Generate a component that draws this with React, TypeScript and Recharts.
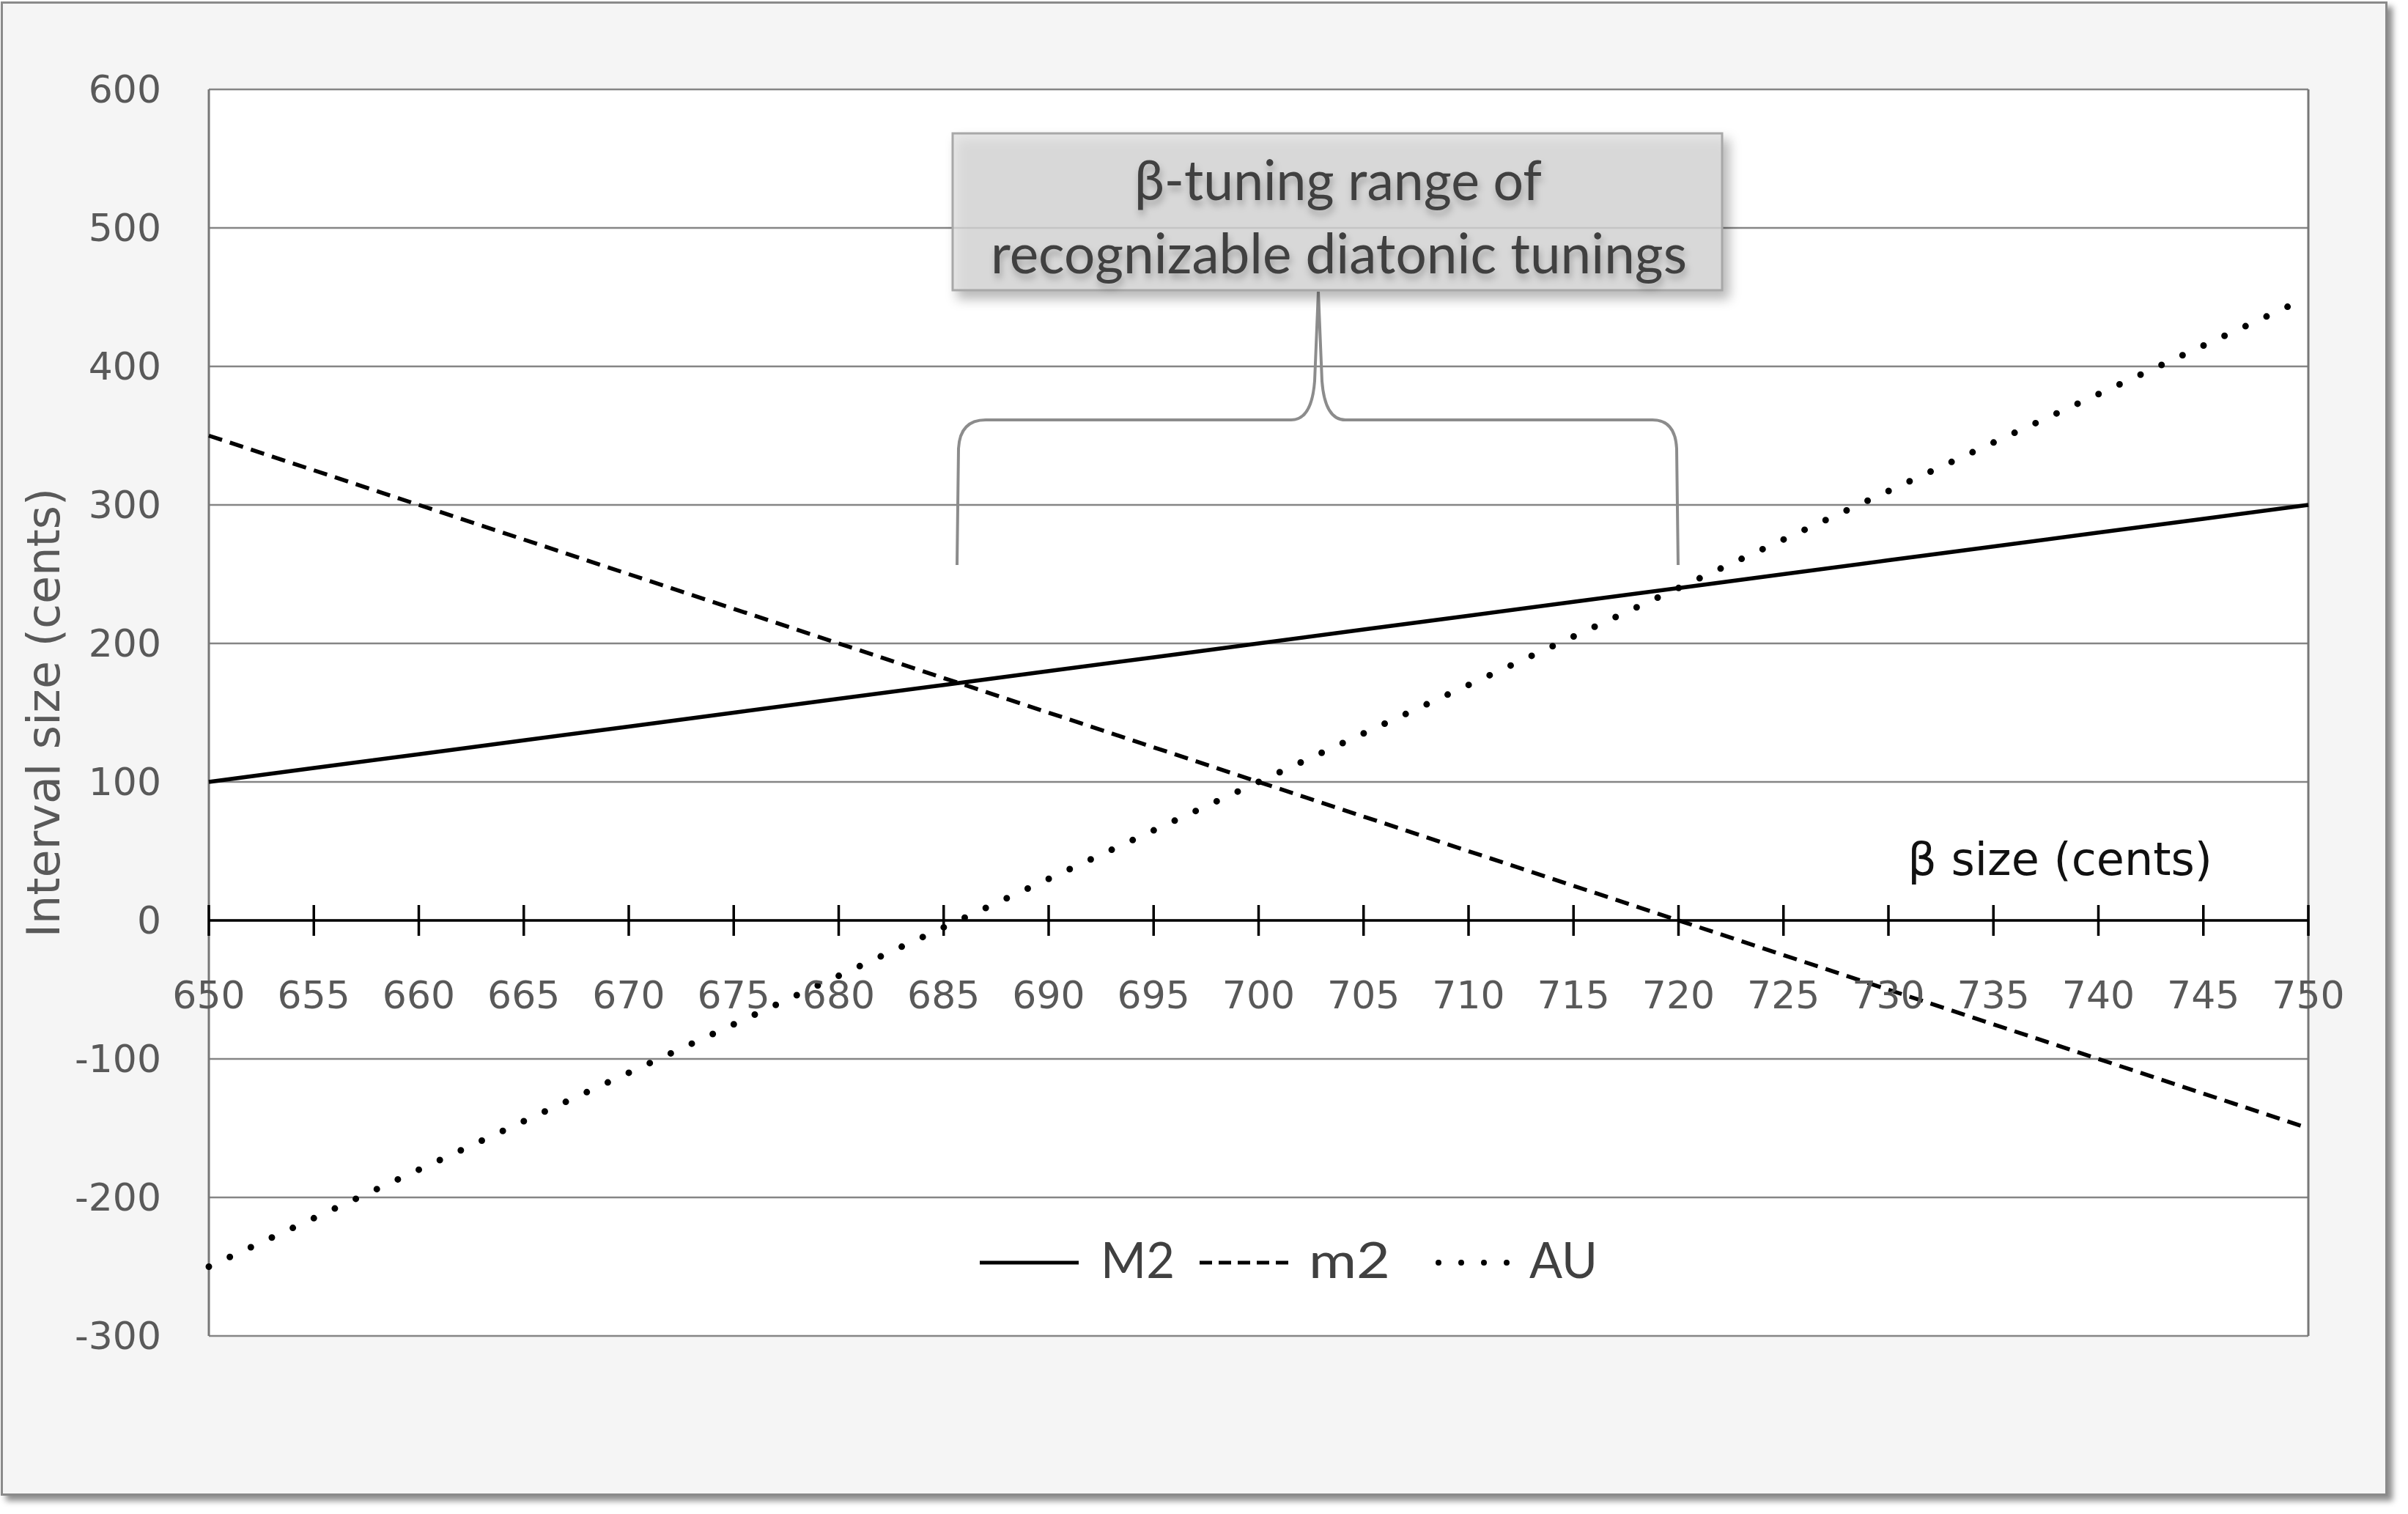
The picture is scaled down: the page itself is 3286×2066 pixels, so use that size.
import React from "react";
import {
  CartesianGrid,
  ComposedChart,
  Legend,
  Line,
  ReferenceLine,
  Scatter,
  YAxis,
  XAxis,
} from "recharts";

// beta size in cents, one row per x tick
const BETA = [650, 655, 660, 665, 670, 675, 680, 685, 690, 695, 700, 705, 710, 715, 720, 725, 730, 735, 740, 745, 750];
const M2 = [100, 110, 120, 130, 140, 150, 160, 170, 180, 190, 200, 210, 220, 230, 240, 250, 260, 270, 280, 290, 300];
const MINOR2 = [350, 325, 300, 275, 250, 225, 200, 175, 150, 125, 100, 75, 50, 25, 0, -25, -50, -75, -100, -125, -150];
const AU = [-250, -215, -180, -145, -110, -75, -40, -5, 30, 65, 100, 135, 170, 205, 240, 275, 310, 345, 380, 415, 450];

const Y_TICKS = [-300, -200, -100, 0, 100, 200, 300, 400, 500, 600];
const X_TICKS = BETA;

const chartData = BETA.map((b, i) => ({ beta: b, M2: M2[i], m2: MINOR2[i], AU: AU[i] }));
const axisTicks = X_TICKS.map((b) => ({ beta: b, zero: 0 }));

const W = 3286;
const H = 2066;
const TICK_FONT = "'DejaVu Sans', Verdana, sans-serif";
const NOTE_FONT = "Lato, 'Open Sans', sans-serif";
const LABEL_GREY = "#595959";

function YTitle(props: any) {
  const vb = props.viewBox || { x: 0, y: 122, width: 285, height: 1701 };
  const x = vb.x + 59;
  const y = vb.y + vb.height / 2;
  return (
    <text
      x={x}
      y={y}
      transform={`rotate(-90 ${x} ${y})`}
      textAnchor="middle"
      dominantBaseline="central"
      fill={LABEL_GREY}
      fontSize={62}
      fontFamily={TICK_FONT}
    >
      Interval size (cents)
    </text>
  );
}

function XTitle(props: any) {
  const vb = props.viewBox || { x: 285, y: 1257, width: 2865, height: 0 };
  return (
    <text
      x={vb.x + vb.width - 131}
      y={vb.y - 62}
      textAnchor="end"
      fill="#111"
      fontSize={62}
      fontFamily={TICK_FONT}
    >
      β size (cents)
    </text>
  );
}

// tick marks crossing the zero line, with the label below
function TickMark(props: any) {
  const { cx, cy, payload } = props;
  return (
    <g>
      <line x1={cx} x2={cx} y1={cy - 21} y2={cy + 21} stroke="#000" strokeWidth={3.5} />
      <text
        x={cx}
        y={cy + 102}
        textAnchor="middle"
        dominantBaseline="central"
        fill={LABEL_GREY}
        fontSize={52}
        fontFamily={TICK_FONT}
      >
        {payload.beta}
      </text>
    </g>
  );
}

function LegendContent() {
  const txt = { fill: "#404040", fontSize: 68, fontFamily: NOTE_FONT };
  return (
    <svg width={900} height={120} style={{ overflow: "visible" }}>
      <line x1={17} x2={152} y1={60} y2={60} stroke="#000" strokeWidth={5} />
      <text x={182} y={81} textLength={101} lengthAdjust="spacingAndGlyphs" {...txt}>M2</text>
      <line x1={317} x2={442} y1={60} y2={60} stroke="#000" strokeWidth={5} strokeDasharray="17 9" />
      <text x={466} y={81} textLength={111} lengthAdjust="spacingAndGlyphs" {...txt}>m2</text>
      <line x1={643} x2={737} y1={60} y2={60} stroke="#000" strokeWidth={8} strokeDasharray="0 31" strokeLinecap="round" />
      <text x={767} y={81} textLength={93} lengthAdjust="spacingAndGlyphs" {...txt}>AU</text>
    </svg>
  );
}

function Callout() {
  return (
    <svg width={W} height={H} style={{ position: "absolute", left: 0, top: 0, pointerEvents: "none" }}>
      <path
        d="M1306,771 L1308,612 Q1310,573 1345,573 L1762,573 Q1790,573 1794,520 L1799,398 L1804,520 Q1808,573 1836,573 L2255,573 Q2286,573 2288,612 L2290,771"
        fill="none"
        stroke="#8c8c8c"
        strokeWidth={4}
      />
      <rect
        x={1300}
        y={182}
        width={1050}
        height={214}
        fill="rgba(224,224,224,0.78)"
        stroke="#a8a8a8"
        strokeWidth={3}
        style={{ filter: "drop-shadow(8px 10px 8px rgba(0,0,0,0.35))" }}
      />
      <g style={{ filter: "drop-shadow(2px 7px 5px rgba(0,0,0,0.25))" }} fill="#404040" fontSize={76} fontFamily={NOTE_FONT}>
        <text x={1826} y={273} textAnchor="middle" textLength={556} lengthAdjust="spacingAndGlyphs">
          β-tuning range of
        </text>
        <text x={1827} y={373} textAnchor="middle" textLength={950} lengthAdjust="spacingAndGlyphs">
          recognizable diatonic tunings
        </text>
      </g>
    </svg>
  );
}

export default function App() {
  return (
    <div style={{ position: "fixed", left: 0, top: 0, width: W, height: H, background: "#fff", overflow: "hidden" }}>
      <div
        style={{
          position: "absolute",
          left: 1,
          top: 2,
          width: 3257,
          height: 2039,
          boxSizing: "border-box",
          border: "3px solid #8a8a8a",
          background: "#f5f5f5",
          boxShadow: "7px 7px 8px rgba(0,0,0,0.45)",
        }}
      />
      <div style={{ position: "absolute", left: 0, top: 0 }}>
        <ComposedChart width={W} height={H} data={chartData} margin={{ top: 122, right: 136, bottom: 243, left: 0 }}>
          <CartesianGrid vertical={false} stroke="#858585" strokeWidth={2.5} fill="#ffffff" fillOpacity={1} />
          <XAxis dataKey="beta" type="number" domain={[650, 750]} ticks={X_TICKS} hide />
          <YAxis
            type="number"
            domain={[-300, 600]}
            ticks={Y_TICKS}
            interval={0}
            width={285}
            axisLine={false}
            tickLine={false}
            tickSize={0}
            tickMargin={65}
            tick={{ fill: LABEL_GREY, fontSize: 52, fontFamily: TICK_FONT }}
            label={<YTitle />}
          />
          <ReferenceLine x={650} stroke="#777" strokeWidth={3} />
          <ReferenceLine x={750} stroke="#777" strokeWidth={3} />
          <ReferenceLine y={0} stroke="#000" strokeWidth={3.5} label={<XTitle />} />
          <Scatter data={axisTicks} dataKey="zero" shape={<TickMark />} legendType="none" isAnimationActive={false} />
          <Line type="linear" dataKey="M2" stroke="#000" strokeWidth={5.5} dot={false} isAnimationActive={false} />
          <Line
            type="linear"
            dataKey="m2"
            stroke="#000"
            strokeWidth={5.5}
            strokeDasharray="19 11.17"
            dot={false}
            isAnimationActive={false}
          />
          <Line
            type="linear"
            dataKey="AU"
            stroke="#000"
            strokeWidth={9}
            strokeDasharray="0 31.56"
            strokeLinecap="round"
            dot={false}
            isAnimationActive={false}
          />
          <Legend
            layout="horizontal"
            verticalAlign="middle"
            content={<LegendContent />}
            wrapperStyle={{ position: "absolute", left: 1320, top: 1663, width: 900, height: 120 }}
          />
        </ComposedChart>
      </div>
      <Callout />
    </div>
  );
}
